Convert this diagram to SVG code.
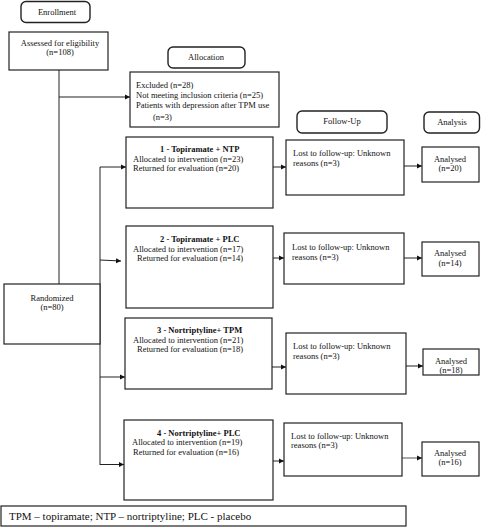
<svg xmlns="http://www.w3.org/2000/svg" width="481" height="528" viewBox="0 0 481 528">
<style>
rect{fill:#fff;stroke:#222;stroke-width:1.2}
.hdr{rx:5;ry:5;stroke-width:1.4}
text{font-family:"Liberation Serif","Times New Roman",serif;font-size:8.5px;fill:#111}
.c{text-anchor:middle}
.b{font-weight:bold}
.ft{font-size:11px}
.ln{fill:none;stroke:#222;stroke-width:1}
</style>
<defs>
<marker id="ah" markerWidth="6" markerHeight="6" refX="5" refY="3" orient="auto" markerUnits="userSpaceOnUse">
<path d="M0,0.5 L5,3 L0,5.5 Z" fill="#111"/>
</marker>
</defs>
<rect width="481" height="528" style="fill:#fff;stroke:none"/>

<g id="connectors">
<path class="ln" d="M59,70 V284"/>
<path class="ln" d="M59,97 H130" marker-end="url(#ah)"/>
<path class="ln" d="M100,167 V465"/>
<path class="ln" d="M100,167 H126" marker-end="url(#ah)"/>
<path class="ln" d="M100,260 L121,261" marker-end="url(#ah)"/>
<path class="ln" d="M100,377 H125" marker-end="url(#ah)"/>
<path class="ln" d="M100,464.5 H124" marker-end="url(#ah)"/>
<path class="ln" d="M273,167 H286" marker-end="url(#ah)"/>
<path class="ln" d="M273,258 H284" marker-end="url(#ah)"/>
<path class="ln" d="M272,367 H286" marker-end="url(#ah)"/>
<path class="ln" d="M273,461 H284" marker-end="url(#ah)"/>
<path class="ln" d="M404,166 H422" marker-end="url(#ah)"/>
<path class="ln" d="M404,258 H422" marker-end="url(#ah)"/>
<path class="ln" d="M406,366 H423" marker-end="url(#ah)"/>
<path class="ln" d="M402,458 H422" style="stroke:#555" marker-end="url(#ah)"/>
</g>

<g id="enrollment">
<rect class="hdr" x="21" y="1.5" width="69" height="21"/>
<text class="c" x="57" y="15">Enrollment</text>
</g>
<g id="allocation">
<rect class="hdr" x="168" y="47" width="77" height="21"/>
<text class="c" x="206" y="60">Allocation</text>
</g>
<g id="followup">
<rect class="hdr" x="297" y="111" width="90" height="22"/>
<text class="c" x="342" y="124">Follow-Up</text>
</g>
<g id="analysis">
<rect class="hdr" x="424" y="112" width="55.5" height="21"/>
<text class="c" x="452" y="125">Analysis</text>
</g>

<g id="assessed">
<rect x="9" y="32" width="99" height="38"/>
<text class="c" x="60" y="46">Assessed for eligibility</text>
<text class="c" x="60" y="55">(n=108)</text>
</g>

<g id="excluded">
<rect x="130" y="72" width="149" height="55"/>
<text x="136" y="88">Excluded (n=28)</text>
<text x="136" y="98">Not meeting inclusion criteria (n=25)</text>
<text x="136" y="108">Patients with depression after TPM use</text>
<text x="153" y="120">(n=3)</text>
</g>

<g id="randomized">
<rect x="4" y="284" width="96" height="60"/>
<text class="c" x="52" y="301">Randomized</text>
<text class="c" x="52" y="310">(n=80)</text>
</g>

<g id="group1">
<rect x="126" y="137" width="147" height="71"/>
<text class="b" x="160" y="152">1 - Topiramate + NTP</text>
<text x="133" y="162">Allocated to intervention (n=23)</text>
<text x="133" y="171">Returned for evaluation (n=20)</text>
</g>
<g id="group2">
<rect x="126" y="226" width="147" height="82"/>
<text class="b" x="160" y="242">2 - Topiramate + PLC</text>
<text x="133" y="252">Allocated to intervention (n=17)</text>
<text x="137" y="261">Returned for evaluation (n=14)</text>
</g>
<g id="group3">
<rect x="125" y="318" width="147" height="71"/>
<text class="b" x="157" y="333">3 - Nortriptyline+ TPM</text>
<text x="133" y="343">Allocated to intervention (n=21)</text>
<text x="137" y="352">Returned for evaluation (n=18)</text>
</g>
<g id="group4">
<rect x="124" y="420" width="149" height="80"/>
<text class="b" x="157" y="436">4 - Nortriptyline+ PLC</text>
<text x="132" y="445">Allocated to intervention (n=19)</text>
<text x="133" y="455">Returned for evaluation (n=16)</text>
</g>

<g id="lost1">
<rect x="286" y="140" width="118" height="55"/>
<text x="293" y="156">Lost to follow-up: Unknown</text>
<text x="293" y="166">reasons (n=3)</text>
</g>
<g id="lost2">
<rect x="284" y="233" width="120" height="51"/>
<text x="292" y="250">Lost to follow-up: Unknown</text>
<text x="292" y="260">reasons (n=3)</text>
</g>
<g id="lost3">
<rect x="286" y="333" width="120" height="61"/>
<text x="293" y="349">Lost to follow-up: Unknown</text>
<text x="293" y="359">reasons (n=3)</text>
</g>
<g id="lost4">
<rect x="284" y="423" width="118" height="53"/>
<text x="291" y="439">Lost to follow-up: Unknown</text>
<text x="291" y="448">reasons (n=3)</text>
</g>

<g id="analysed1">
<rect x="422" y="147" width="57" height="35"/>
<text class="c" x="450" y="162">Analysed</text>
<text class="c" x="450" y="171">(n=20)</text>
</g>
<g id="analysed2">
<rect x="422" y="242" width="57" height="34"/>
<text class="c" x="450" y="256">Analysed</text>
<text class="c" x="450" y="266">(n=14)</text>
</g>
<g id="analysed3">
<rect x="423" y="349" width="56" height="26"/>
<text class="c" x="451" y="364">Analysed</text>
<text class="c" x="451" y="373">(n=18)</text>
</g>
<g id="analysed4">
<rect x="422" y="442" width="57" height="34"/>
<text class="c" x="450" y="456">Analysed</text>
<text class="c" x="450" y="465">(n=16)</text>
</g>

<g id="legend">
<rect x="1" y="506" width="405" height="20"/>
<text class="ft" x="9" y="520">TPM – topiramate; NTP – nortriptyline; PLC - placebo</text>
</g>
</svg>
